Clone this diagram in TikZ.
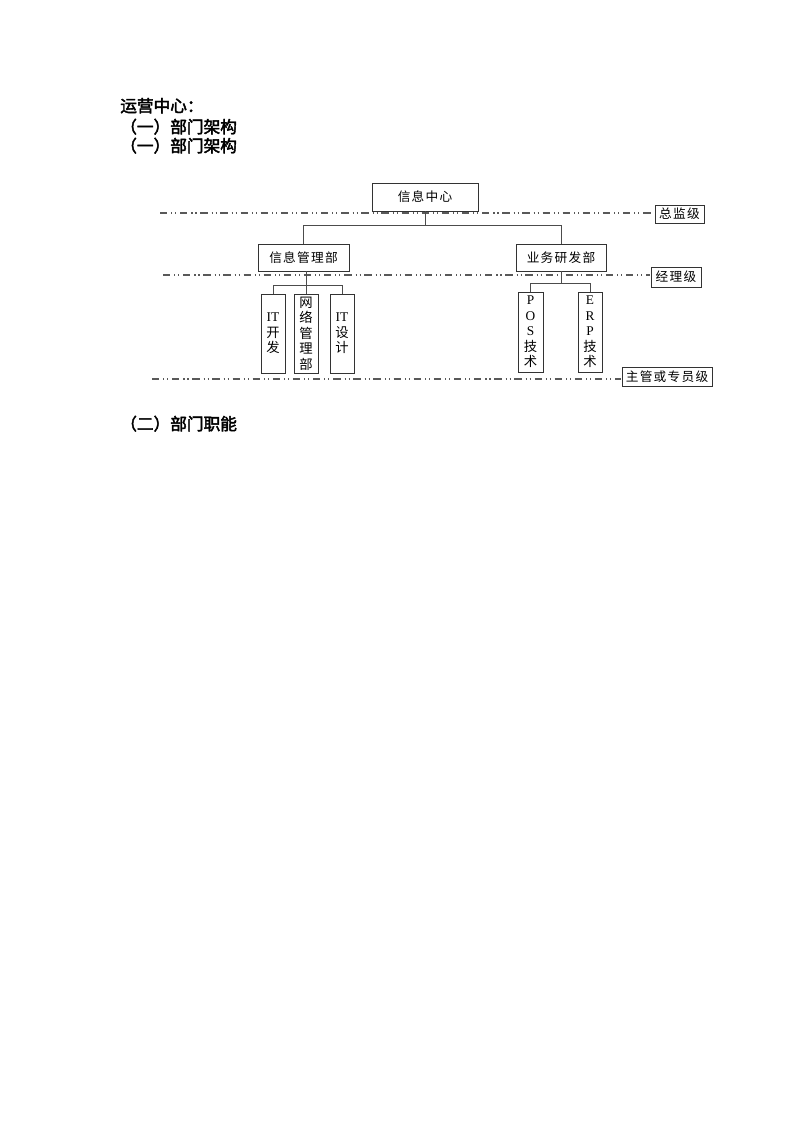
\documentclass[tikz,border=0pt]{standalone}
\usepackage{fontspec}
\setmainfont{Liberation Serif}
\newfontfamily\cjk{Noto Sans CJK SC}
\newfontfamily\cjkl[LetterSpace=10]{Noto Sans CJK SC}
\newfontfamily\cjkb[FakeBold=2.5]{Noto Sans CJK SC}
\usetikzlibrary{fit}
\begin{document}
\begin{tikzpicture}[x=0.75pt,y=-0.75pt,
  box/.style={draw=black!80,line width=0.7pt,inner sep=0pt},
  conn/.style={draw=black!70,line width=0.7pt},
  levelline/.style={draw=black!65,line width=0.8pt,dash pattern=on 5.5pt off 3pt on 0.8pt off 2.2pt on 0.8pt off 2.8pt},
  head/.style={anchor=base west,inner sep=0pt,font=\cjkb\fontsize{12.5pt}{14pt}\selectfont},
  lbl/.style={font=\cjkl\fontsize{9.5pt}{11.5pt}\selectfont,inner sep=0pt},
  vt/.style={font=\cjk\fontsize{10pt}{11.6pt}\selectfont,align=center,inner sep=0pt}]
\useasboundingbox (0,0) rectangle (794,1123);
\fill[white] (0,0) rectangle (794,1123);

% headings
\node[head] (h1) at (120,112) {运营中心：};
\node[head] (h2) at (120,133) {（一）部门架构};
\node[head] (h3) at (120,152) {（一）部门架构};
\node[head] (h4) at (120,430) {（二）部门职能};

% level lines
\coordinate (l1a) at (160,213); \coordinate (l1b) at (653,213);
\coordinate (l2a) at (163,275); \coordinate (l2b) at (650,275);
\coordinate (l3a) at (152,379); \coordinate (l3b) at (621,379);
\draw[levelline] (l1a) -- (l1b);
\draw[levelline] (l2a) -- (l2b);
\draw[levelline] (l3a) -- (l3b);

% level labels
\node[box,fit={(655,205) (704,223)}] (zj) {};
\node[lbl] (zjt) at (zj.center) {总监级};
\node[box,fit={(651,267) (701,287)}] (jl) {};
\node[lbl] (jlt) at (jl.center) {经理级};
\node[box,fit={(622,367) (712,386)}] (zg) {};
\node[lbl] (zgt) at (zg.center) {主管或专员级};

% main boxes
\node[box,fit={(372,183) (478,211)}] (xxzx) {};
\node[lbl] (xxzxt) at (xxzx.center) {信息中心};
\node[box,fit={(258,244) (349,271)}] (xxgl) {};
\node[lbl] (xxglt) at (xxgl.center) {信息管理部};
\node[box,fit={(516,244) (606,271)}] (ywyf) {};
\node[lbl] (ywyft) at (ywyf.center) {业务研发部};

% children
\node[box,fit={(261,294) (285,373)}] (itkf) {};
\node[vt] (itkft) at (itkf.center) {{\rmfamily IT}\\开\\发};
\node[box,fit={(294,294) (318,373)}] (wlgl) {};
\node[vt] (wlglt) at (wlgl.center) {网\\络\\管\\理\\部};
\node[box,fit={(330,294) (354,373)}] (itsj) {};
\node[vt] (itsjt) at (itsj.center) {{\rmfamily IT}\\设\\计};
\node[box,fit={(518,292) (543,372)}] (pos) {};
\node[vt] (post) at (pos.center) {{\rmfamily P}\\{\rmfamily O}\\{\rmfamily S}\\技\\术};
\node[box,fit={(578,292) (602,372)}] (erp) {};
\node[vt] (erpt) at (erp.center) {{\rmfamily E}\\{\rmfamily R}\\{\rmfamily P}\\技\\术};

% connectors
\coordinate (r1) at (0,225);
\coordinate (r2) at (0,285);
\coordinate (r3) at (0,283);
\draw[conn] (xxzx.south) -- (xxzx.south |- r1);
\draw[conn] (xxgl.north) -- (xxgl.north |- r1) -- (ywyf.north |- r1) -- (ywyf.north);
\draw[conn] (wlgl.north |- xxgl.south) -- (wlgl.north);
\draw[conn] (itkf.north) -- (itkf.north |- r2) -- (itsj.north |- r2) -- (itsj.north);
\draw[conn] (ywyf.south) -- (ywyf.south |- r3);
\draw[conn] (pos.north) -- (pos.north |- r3) -- (erp.north |- r3) -- (erp.north);
\end{tikzpicture}
\end{document}
